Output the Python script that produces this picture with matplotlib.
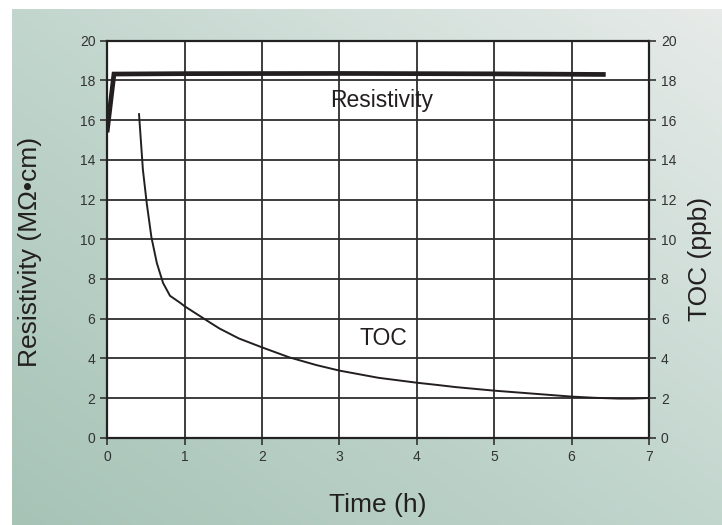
import numpy as np
import matplotlib
matplotlib.use("Agg")
import matplotlib.pyplot as plt
from matplotlib.colors import LinearSegmentedColormap

plt.rcParams['font.family'] = ['Liberation Sans', 'DejaVu Sans']

# data
res_t = [0.0, 0.086, 1.0, 3.0, 5.0, 6.41]
res_v = [15.5, 18.32, 18.34, 18.35, 18.33, 18.3]

toc_t = [0.41, 0.46, 0.51, 0.57, 0.64, 0.72, 0.81, 0.94, 1.0, 1.2, 1.36, 1.45, 1.7, 2.0,
         2.35, 2.7, 3.0, 3.5, 4.0, 4.28, 4.5, 5.0, 5.5, 6.0, 6.3, 6.6, 6.8, 7.0]
toc_v = [16.3, 13.5, 11.8, 10.1, 8.8, 7.8, 7.15, 6.8, 6.62, 6.12, 5.72, 5.5, 5.0, 4.55,
         4.05, 3.66, 3.38, 3.02, 2.77, 2.65, 2.55, 2.37, 2.22, 2.07, 2.01, 1.97, 1.97, 2.0]

xticks = list(range(0, 8))
yticks = list(range(0, 21, 2))

fig = plt.figure(figsize=(7.22, 5.25), dpi=100)

# gradient panel behind the chart
bg = fig.add_axes([12 / 722, 0, 1 - 12 / 722, 1 - 9 / 525])
bg.axis('off')
cmap = LinearSegmentedColormap.from_list('bg', ['#a7c3b6', '#c2d6ce', '#e7ebe9'])
gx, gy = np.meshgrid(np.linspace(0, 1, 300), np.linspace(0, 1, 300))
bg.imshow(0.5 * gx + 0.5 * gy, cmap=cmap, origin='lower', aspect='auto',
          extent=[0, 1, 0, 1], vmin=0, vmax=1)
bg.set_xlim(0, 1)
bg.set_ylim(0, 1)

ax = fig.add_axes([107.3 / 722, 1 - 437.7 / 525, (649 - 107.3) / 722, (437.7 - 40.7) / 525])
ax.set_facecolor('white')
ax.set_xlim(0, 7)
ax.set_ylim(0, 20)
ax.set_xticks(xticks)
ax.set_yticks(yticks)
ax.grid(True, color='#2e2e2e', linewidth=1.3)
ax.set_axisbelow(True)
for s in ax.spines.values():
    s.set_color('#222222')
    s.set_linewidth(1.6)
ax.tick_params(direction='out', length=5, width=1.2, colors='#333333', labelsize=10,
               labelcolor='#333333')

ax.plot(res_t, res_v, color='#231f20', linewidth=3.4, solid_joinstyle='miter', zorder=3)
ax.plot(toc_t, toc_v, color='#231f20', linewidth=1.4, zorder=3)

ax.text(3.55, 17.0, 'Resistivity', ha='center', va='center', fontsize=16.5, color='#231f20')
ax.text(3.57, 5.0, 'TOC', ha='center', va='center', fontsize=16.5, color='#231f20')

ax2 = ax.twinx()
ax2.set_ylim(0, 20)
ax2.set_yticks(yticks)
ax2.tick_params(direction='out', length=5, width=1.2, colors='#333333', labelsize=10,
                labelcolor='#333333')
for s in ax2.spines.values():
    s.set_visible(False)

fig.text(30 / 722, 1 - 252 / 525, 'Resistivity (MΩ•cm)', rotation=90, ha='center',
         va='center', fontsize=19, color='#231f20')
fig.text(700 / 722, 1 - 259 / 525, 'TOC (ppb)', rotation=90, ha='center',
         va='center', fontsize=19, color='#231f20')
fig.text(378 / 722, 1 - 505 / 525, 'Time (h)', ha='center', va='center',
         fontsize=19, color='#231f20')

fig.savefig('out.png', dpi=100)
